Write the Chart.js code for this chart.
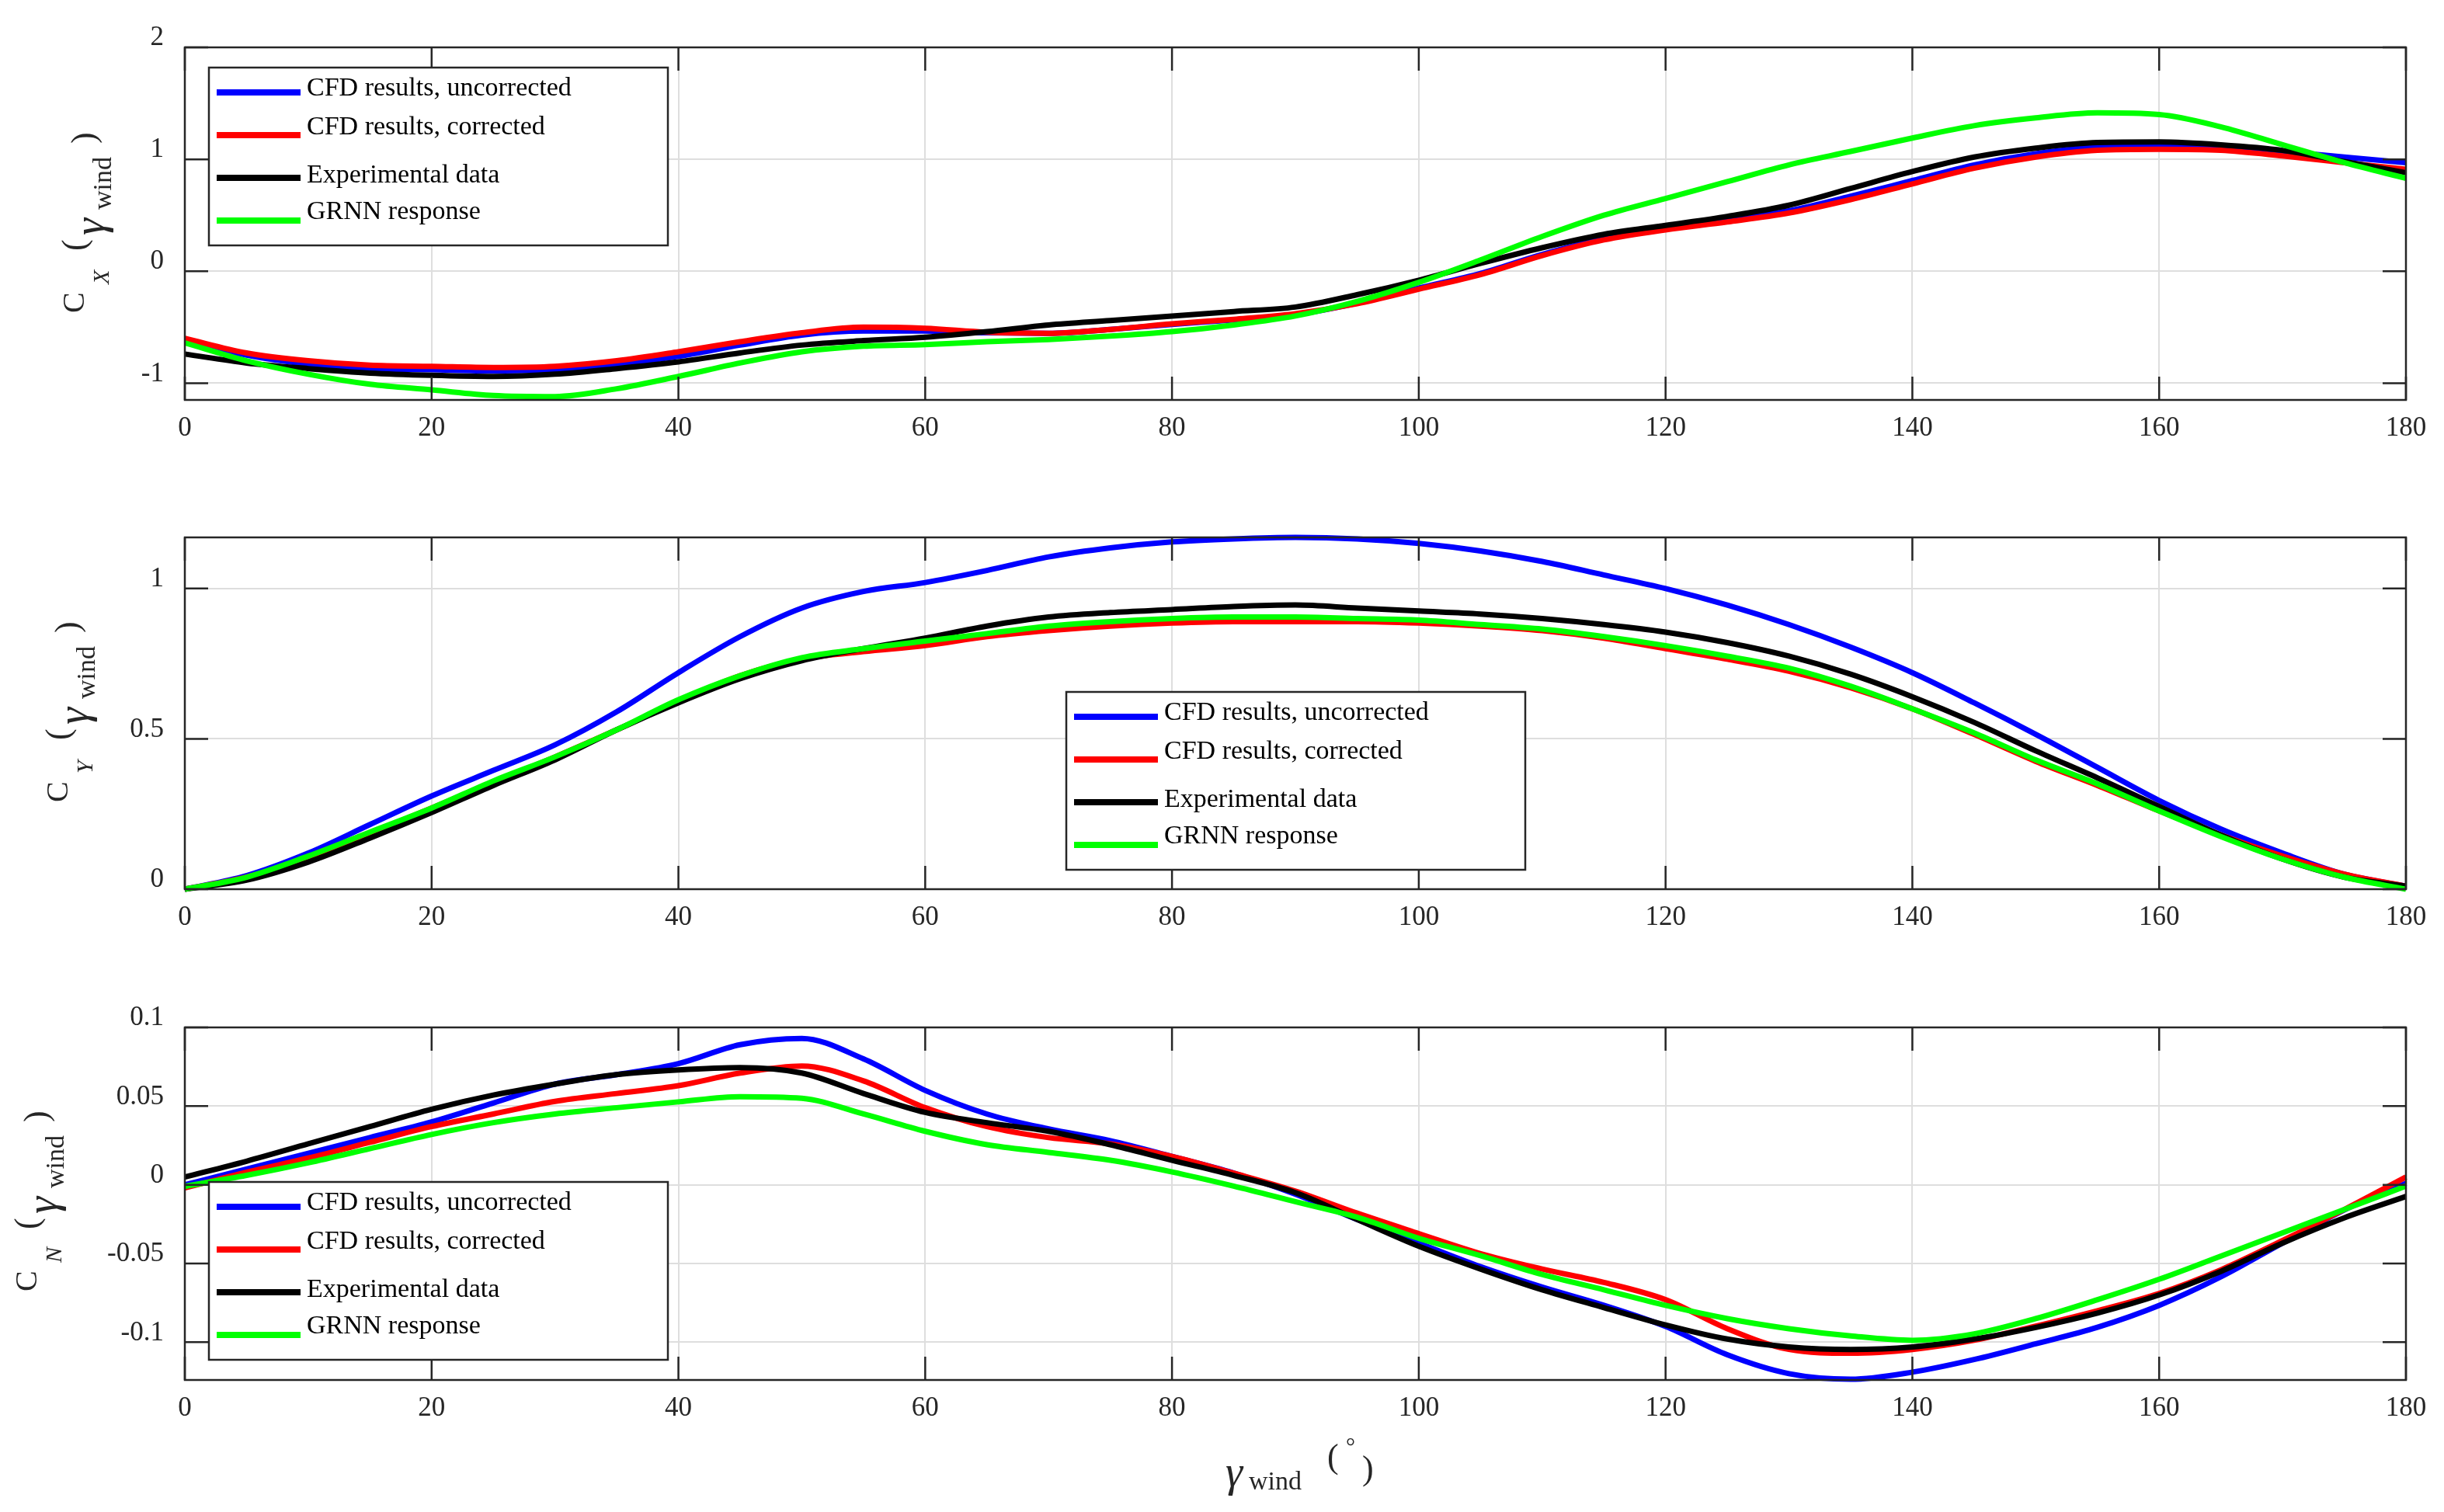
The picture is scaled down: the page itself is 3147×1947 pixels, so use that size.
<!DOCTYPE html>
<html>
<head>
<meta charset="utf-8">
<script src="https://cdn.jsdelivr.net/npm/chart.js@4.4.0/dist/chart.umd.min.js"></script>
<style>
  html, body { margin: 0; padding: 0; background: #fff; }
  body { width: 3147px; height: 1947px; position: relative; overflow: hidden; }
  canvas { position: absolute; left: 0; }
</style>
</head>
<body>
<canvas id="cx" width="3147" height="620" style="top:0px"></canvas>
<canvas id="cy" width="3147" height="640" style="top:620px"></canvas>
<canvas id="cn" width="3147" height="687" style="top:1260px"></canvas>
<script>
// wind angle (deg)
const angles = [0,5,10,15,20,25,30,35,40,45,50,55,60,65,70,75,80,85,90,95,100,105,110,115,120,125,130,135,140,145,150,155,160,165,170,175,180];

const seriesLabels = ['CFD results, uncorrected', 'CFD results, corrected', 'Experimental data', 'GRNN response'];
const seriesColors = ['#0000ff', '#ff0000', '#000000', '#00ff00'];

// C_X
const cxUncorrected = [-0.62,-0.75,-0.83,-0.87,-0.88,-0.89,-0.88,-0.83,-0.76,-0.66,-0.57,-0.535,-0.535,-0.55,-0.555,-0.52,-0.475,-0.435,-0.39,-0.285,-0.15,-0.02,0.15,0.29,0.38,0.46,0.54,0.67,0.81,0.95,1.05,1.11,1.125,1.11,1.07,1.02,0.97];
const cxCorrected   = [-0.60,-0.73,-0.80,-0.84,-0.85,-0.86,-0.85,-0.80,-0.72,-0.63,-0.55,-0.50,-0.51,-0.545,-0.555,-0.52,-0.47,-0.43,-0.38,-0.29,-0.16,-0.03,0.14,0.28,0.37,0.44,0.52,0.64,0.78,0.92,1.02,1.08,1.09,1.08,1.03,0.97,0.91];
const cxExperiment  = [-0.74,-0.82,-0.87,-0.91,-0.93,-0.94,-0.92,-0.87,-0.81,-0.73,-0.66,-0.62,-0.59,-0.54,-0.48,-0.44,-0.40,-0.36,-0.32,-0.21,-0.08,0.07,0.21,0.33,0.41,0.49,0.59,0.74,0.89,1.02,1.10,1.15,1.155,1.13,1.08,0.98,0.88];
const cxGrnn        = [-0.64,-0.80,-0.92,-1.01,-1.06,-1.11,-1.12,-1.05,-0.94,-0.82,-0.72,-0.67,-0.655,-0.63,-0.61,-0.58,-0.54,-0.48,-0.40,-0.27,-0.10,0.10,0.31,0.50,0.65,0.80,0.95,1.07,1.19,1.30,1.37,1.415,1.40,1.29,1.13,0.97,0.83];

// C_Y
const cyUncorrected = [0,0.045,0.12,0.215,0.31,0.395,0.48,0.59,0.72,0.84,0.935,0.99,1.02,1.06,1.105,1.135,1.155,1.165,1.17,1.165,1.15,1.125,1.09,1.045,1.0,0.945,0.88,0.805,0.72,0.62,0.515,0.405,0.295,0.20,0.12,0.05,0.01];
const cyCorrected   = [0,0.04,0.105,0.185,0.27,0.355,0.44,0.53,0.625,0.71,0.765,0.79,0.81,0.84,0.86,0.875,0.885,0.89,0.89,0.89,0.885,0.875,0.86,0.835,0.80,0.765,0.725,0.67,0.60,0.515,0.425,0.345,0.26,0.18,0.11,0.05,0.01];
const cyExperiment  = [0,0.03,0.09,0.17,0.255,0.345,0.43,0.53,0.62,0.70,0.76,0.80,0.835,0.875,0.905,0.92,0.93,0.94,0.945,0.935,0.925,0.915,0.90,0.88,0.855,0.82,0.775,0.715,0.64,0.555,0.46,0.37,0.275,0.18,0.10,0.04,0.01];
const cyGrnn        = [0,0.04,0.11,0.19,0.27,0.36,0.44,0.53,0.63,0.71,0.77,0.80,0.825,0.85,0.875,0.89,0.90,0.905,0.905,0.90,0.895,0.88,0.865,0.84,0.81,0.775,0.735,0.675,0.60,0.52,0.43,0.35,0.26,0.175,0.10,0.04,0.0];

// C_N
const cnUncorrected = [0.000,0.010,0.020,0.030,0.040,0.052,0.064,0.070,0.077,0.089,0.093,0.080,0.060,0.045,0.0355,0.028,0.018,0.0075,-0.006,-0.022,-0.037,-0.052,-0.065,-0.0766,-0.090,-0.108,-0.120,-0.1235,-0.119,-0.111,-0.101,-0.0905,-0.0766,-0.0585,-0.037,-0.016,0.001];
const cnCorrected   = [-0.002,0.008,0.017,0.027,0.037,0.045,0.053,0.058,0.063,0.071,0.0755,0.066,0.049,0.037,0.030,0.026,0.018,0.0074,-0.004,-0.018,-0.031,-0.0437,-0.0535,-0.062,-0.073,-0.0914,-0.1046,-0.107,-0.1046,-0.0988,-0.0898,-0.080,-0.069,-0.054,-0.0354,-0.0157,0.005];
const cnExperiment  = [0.005,0.015,0.026,0.037,0.048,0.057,0.064,0.070,0.073,0.0745,0.071,0.058,0.046,0.0395,0.034,0.0255,0.0156,0.006,-0.005,-0.022,-0.039,-0.0535,-0.0667,-0.078,-0.089,-0.098,-0.103,-0.1046,-0.103,-0.098,-0.0906,-0.0815,-0.070,-0.055,-0.037,-0.021,-0.0074];
const cnGrnn        = [-0.001,0.006,0.014,0.023,0.032,0.0395,0.045,0.049,0.0527,0.056,0.055,0.045,0.034,0.0255,0.0206,0.0156,0.0082,-0.0008,-0.0107,-0.0206,-0.034,-0.045,-0.057,-0.0667,-0.0766,-0.085,-0.0914,-0.096,-0.0988,-0.0947,-0.085,-0.073,-0.060,-0.0453,-0.0305,-0.0157,-0.0008];

// tick values and labels
const xTicks = [0,20,40,60,80,100,120,140,160,180];
const cxTicks = [-1,0,1,2];
const cxTickLabels = ['-1','0','1','2'];
const cyTicks = [0,0.5,1];
const cyTickLabels = ['0','0.5','1'];
const cnTicks = [-0.1,-0.05,0,0.05,0.1];
const cnTickLabels = ['-0.1','-0.05','0','0.05','0.1'];

const FONT = 'Liberation Serif, Times New Roman, serif';
const INK = '#262626';

function drawLegend(ctx, lx, ly) {
  const w = 591, h = 229;
  const lineY = [32, 87, 142, 197];
  const textY = [36, 86, 148, 195];
  ctx.fillStyle = '#fff';
  ctx.fillRect(lx, ly, w, h);
  ctx.strokeStyle = INK;
  ctx.lineWidth = 2.5;
  ctx.strokeRect(lx, ly, w, h);
  ctx.font = '34px ' + FONT;
  ctx.textBaseline = 'alphabetic';
  ctx.textAlign = 'left';
  seriesLabels.forEach((lab, i) => {
    ctx.strokeStyle = seriesColors[i];
    ctx.lineWidth = 8;
    ctx.beginPath();
    ctx.moveTo(lx + 10, ly + lineY[i]);
    ctx.lineTo(lx + 118, ly + lineY[i]);
    ctx.stroke();
    ctx.fillStyle = '#000';
    ctx.fillText(lab, lx + 126, ly + textY[i]);
  });
}

// rotated y title: C_sub ( gamma_wind )
function drawYTitle(ctx, xb, cy, sub) {
  const pieces = [
    { t: 'C', f: '40px ' + FONT, u: 0, dv: 0 },
    { t: sub, f: 'italic 30px ' + FONT, u: 37, dv: 32 },
    { t: '(', f: '44px ' + FONT, u: 80, dv: 2 },
    { t: '\u03b3', f: 'italic 56px ' + FONT, u: 100, dv: 26 },
    { t: 'wind', f: '34px ' + FONT, u: 133, dv: 35 },
    { t: ')', f: '44px ' + FONT, u: 218, dv: 14 }
  ];
  ctx.save();
  ctx.translate(xb, cy + 115);
  ctx.rotate(-Math.PI / 2);
  ctx.fillStyle = INK;
  ctx.textAlign = 'left';
  ctx.textBaseline = 'alphabetic';
  pieces.forEach(p => { ctx.font = p.f; ctx.fillText(p.t, p.u, p.dv); });
  ctx.restore();
}

function drawXTitle(ctx, oy) {
  ctx.save();
  ctx.fillStyle = INK;
  ctx.textAlign = 'left';
  ctx.textBaseline = 'alphabetic';
  ctx.font = 'italic 56px ' + FONT;
  ctx.fillText('\u03b3', 1578, 1914 - oy);
  ctx.font = '34px ' + FONT;
  ctx.fillText('wind', 1608, 1918 - oy);
  ctx.font = '44px ' + FONT;
  ctx.fillText('(', 1709, 1890 - oy);
  ctx.font = '30px ' + FONT;
  ctx.fillText('\u00b0', 1733, 1872 - oy);
  ctx.font = '44px ' + FONT;
  ctx.fillText(')', 1754, 1905 - oy);
  ctx.restore();
}

const axesBox = {
  id: 'axesBox',
  afterDatasetsDraw(chart, args, o) {
    const ctx = chart.ctx;
    const a = chart.chartArea;
    const x = chart.scales.x, y = chart.scales.y;
    ctx.save();
    ctx.strokeStyle = INK;
    ctx.lineWidth = 2.5;
    ctx.beginPath();
    x.ticks.forEach(t => {
      const px = x.getPixelForValue(t.value);
      ctx.moveTo(px, a.bottom); ctx.lineTo(px, a.bottom - 30);
      ctx.moveTo(px, a.top); ctx.lineTo(px, a.top + 30);
    });
    y.ticks.forEach(t => {
      const py = y.getPixelForValue(t.value);
      ctx.moveTo(a.left, py); ctx.lineTo(a.left + 30, py);
      ctx.moveTo(a.right, py); ctx.lineTo(a.right - 30, py);
    });
    ctx.stroke();
    ctx.strokeRect(a.left, a.top, a.right - a.left, a.bottom - a.top);
    drawLegend(ctx, o.legendX, o.legendY);
    drawYTitle(ctx, o.titleX, o.titleY, o.sub);
    if (o.xTitle) drawXTitle(ctx, o.offsetY);
    ctx.restore();
  }
};

function makePanel(id, series, yMin, yMax, yTicks, yLabels, top, bottom, opts) {
  const canvas = document.getElementById(id);
  const H = canvas.height;
  const datasets = series.map((vals, i) => ({
    label: seriesLabels[i],
    data: angles.map((a, k) => ({ x: a, y: vals[k] })),
    borderColor: seriesColors[i],
    backgroundColor: seriesColors[i],
    borderWidth: 7,
    pointRadius: 0,
    cubicInterpolationMode: 'monotone',
    clip: false,
    order: 4 - i
  }));
  return new Chart(canvas.getContext('2d'), {
    type: 'line',
    data: { datasets: datasets },
    plugins: [axesBox],
    options: {
      responsive: false,
      animation: false,
      devicePixelRatio: 1,
      layout: { padding: { top: top, right: 49, left: 0, bottom: 0 } },
      plugins: {
        legend: { display: false },
        tooltip: { enabled: false },
        axesBox: opts
      },
      scales: {
        x: {
          type: 'linear',
          min: 0,
          max: 180,
          afterBuildTicks: s => { s.ticks = xTicks.map(v => ({ value: v })); },
          afterFit: s => { s.height = H - bottom; },
          grid: { color: '#dedede', lineWidth: 2, drawTicks: false },
          border: { display: false },
          ticks: { padding: 16, color: INK, font: { family: FONT, size: 35 }, maxRotation: 0, autoSkip: false }
        },
        y: {
          type: 'linear',
          min: yMin,
          max: yMax,
          afterBuildTicks: s => { s.ticks = yTicks.map(v => ({ value: v })); },
          afterFit: s => { s.width = 238; },
          grid: { color: '#dedede', lineWidth: 2, drawTicks: false },
          border: { display: false },
          ticks: {
            padding: 27,
            labelOffset: -12,
            color: INK,
            font: { family: FONT, size: 35 },
            autoSkip: false,
            callback: v => yLabels[yTicks.indexOf(v)]
          }
        }
      }
    }
  });
}

makePanel('cx', [cxUncorrected, cxCorrected, cxExperiment, cxGrnn], -1.15, 2, cxTicks, cxTickLabels, 61, 515,
  { legendX: 269, legendY: 87, titleX: 108, titleY: 288, sub: 'X', xTitle: false, offsetY: 0 });
makePanel('cy', [cyUncorrected, cyCorrected, cyExperiment, cyGrnn], 0, 1.17, cyTicks, cyTickLabels, 72, 525,
  { legendX: 1373, legendY: 271, titleX: 87, titleY: 298, sub: 'Y', xTitle: false, offsetY: 620 });
makePanel('cn', [cnUncorrected, cnCorrected, cnExperiment, cnGrnn], -0.124, 0.1, cnTicks, cnTickLabels, 63, 517,
  { legendX: 269, legendY: 262, titleX: 47, titleY: 288, sub: 'N', xTitle: true, offsetY: 1260 });
</script>
</body>
</html>
